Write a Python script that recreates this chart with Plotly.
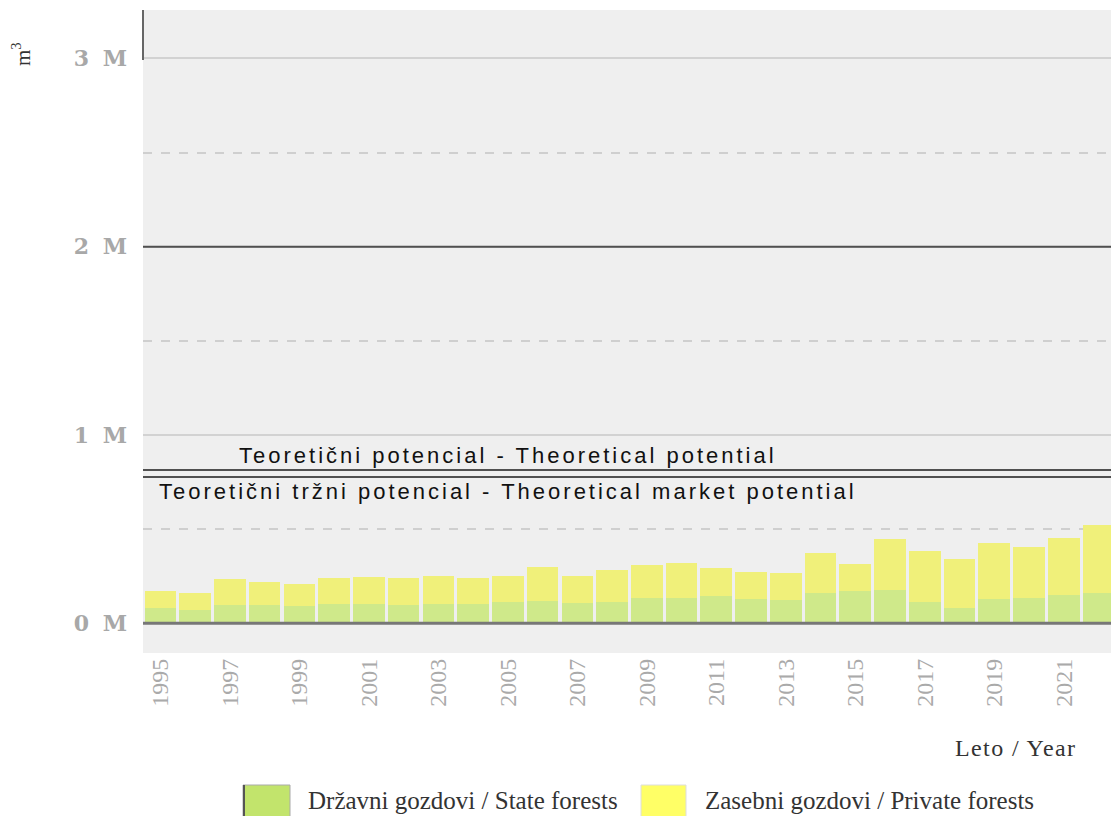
import plotly.graph_objects as go

years = list(range(1995, 2023))
total = [0.170, 0.163, 0.235, 0.219, 0.209, 0.241, 0.246, 0.241, 0.249, 0.241,
         0.253, 0.299, 0.251, 0.283, 0.310, 0.319, 0.295, 0.272, 0.265, 0.372,
         0.315, 0.446, 0.386, 0.340, 0.425, 0.404, 0.451, 0.524]
state = [0.080, 0.072, 0.097, 0.097, 0.092, 0.102, 0.102, 0.097, 0.102, 0.102,
         0.113, 0.117, 0.108, 0.115, 0.136, 0.133, 0.147, 0.131, 0.124, 0.163,
         0.170, 0.177, 0.115, 0.080, 0.127, 0.136, 0.149, 0.159]
state_m3 = [v * 1e6 for v in state]
private_m3 = [(t - s) * 1e6 for t, s in zip(total, state)]

potential_labels = ["Teoretični potencial - Theoretical potential",
                    "Teoretični tržni potencial - Theoretical market potential"]
potential_values = [814000, 777000]
upper_line = 2000000

y_tickvals = [0, 1e6, 2e6, 3e6]
y_ticktext = ["0 M", "1 M", "2 M", "3 M"]
x_tickvals = list(range(1995, 2022, 2))

series_names = ["Državni gozdovi / State forests", "Zasebni gozdovi / Private forests"]

# plot area in pixels
W, H = 1111, 816
PL, PR, PT, PB = 143, 1111, 10, 653


def px(x):
    return (x - PL) / (PR - PL)


def py(y):
    return (PB - y) / (PB - PT)


def spaced(text, sp):
    return '<span style="letter-spacing:%spx">%s</span>' % (sp, text)


fig = go.Figure()
fig.add_bar(x=years, y=state_m3, name=series_names[0], marker=dict(color="#cfe98a", line=dict(width=0)))
fig.add_bar(x=years, y=private_m3, name=series_names[1], marker=dict(color="#f0f07a", line=dict(width=0)))

shapes = []
shapes.append(dict(type="line", xref="paper", yref="y", x0=0, x1=1, y0=0, y1=0,
                   line=dict(color="#777777", width=3), layer="above"))
shapes.append(dict(type="line", xref="paper", yref="y", x0=0, x1=1, y0=upper_line, y1=upper_line,
                   line=dict(color="#505050", width=2), layer="above"))
for v in potential_values:
    shapes.append(dict(type="line", xref="paper", yref="y", x0=0, x1=1, y0=v, y1=v,
                       line=dict(color="#505050", width=2), layer="above"))
shapes.append(dict(type="line", xref="paper", yref="paper", x0=0, x1=0, y0=py(60), y1=1,
                   line=dict(color="#666666", width=2)))
# legend swatches
shapes.append(dict(type="rect", xref="paper", yref="paper", x0=px(243), x1=px(290), y0=py(830), y1=py(785),
                   fillcolor="#c2e46c", line=dict(color="#aaaaaa", width=1)))
shapes.append(dict(type="line", xref="paper", yref="paper", x0=px(244), x1=px(244), y0=py(830), y1=py(785),
                   line=dict(color="#555555", width=2)))
shapes.append(dict(type="rect", xref="paper", yref="paper", x0=px(641), x1=px(686), y0=py(830), y1=py(785),
                   fillcolor="#ffff66", line=dict(color="#dddddd", width=1)))

annotations = [
    dict(x=2005, y=potential_values[0], xref="x", yref="y", text=spaced(potential_labels[0], 3), showarrow=False,
         xanchor="center", yanchor="bottom", font=dict(family="Liberation Sans, Arial", size=22, color="#111111")),
    dict(x=2005, y=potential_values[1], xref="x", yref="y", text=spaced(potential_labels[1], 3), showarrow=False,
         xanchor="center", yanchor="top", font=dict(family="Liberation Sans, Arial", size=22, color="#111111")),
    dict(x=px(1015), y=py(748), xref="paper", yref="paper", text=spaced("Leto / Year", 1.4), showarrow=False,
         xanchor="center", yanchor="middle",
         font=dict(family="Liberation Serif", size=24, color="#333333")),
    dict(x=px(21), y=py(54), xref="paper", yref="paper", text="m<sup>3</sup>", showarrow=False,
         xanchor="center", yanchor="middle",
         textangle=-90, font=dict(family="Liberation Serif", size=21, color="#333333")),
    dict(x=px(306), y=py(800), xref="paper", yref="paper", text=series_names[0], showarrow=False,
         xanchor="left", yanchor="middle", font=dict(family="Liberation Serif", size=25, color="#333333")),
    dict(x=px(703), y=py(800), xref="paper", yref="paper", text=series_names[1], showarrow=False,
         xanchor="left", yanchor="middle", font=dict(family="Liberation Serif", size=25, color="#333333")),
]

fig.update_layout(
    width=W, height=H,
    margin=dict(l=PL, r=W - PR, t=PT, b=H - PB, pad=0),
    barmode="stack", bargap=0.09,
    plot_bgcolor="#efefef", paper_bgcolor="white",
    showlegend=False,
    shapes=shapes, annotations=annotations,
    xaxis=dict(range=[1994.5, 2022.36], tickvals=x_tickvals, ticktext=[str(v) for v in x_tickvals],
               tickangle=-90, showgrid=False, zeroline=False, showline=False, ticks="",
               tickfont=dict(family="Liberation Serif", size=24, color="#aaaaaa")),
    yaxis=dict(range=[-158000, 3257000], tickvals=y_tickvals,
               ticktext=[spaced("<b>%s</b>" % t, 3) for t in y_ticktext],
               showgrid=True, gridcolor="#d2d2d2", gridwidth=1.5, zeroline=False, showline=False,
               ticks="", ticklabelstandoff=12,
               tickfont=dict(family="DejaVu Serif", size=22, color="#a8a8a8"),
               minor=dict(tickvals=[5e5, 1.5e6, 2.5e6], showgrid=True, griddash="dash",
                          gridcolor="#cfcfcf", gridwidth=1.5)),
)

fig.write_html("out.html", config={"displayModeBar": False},
               post_script="document.body.style.margin='0px';")
